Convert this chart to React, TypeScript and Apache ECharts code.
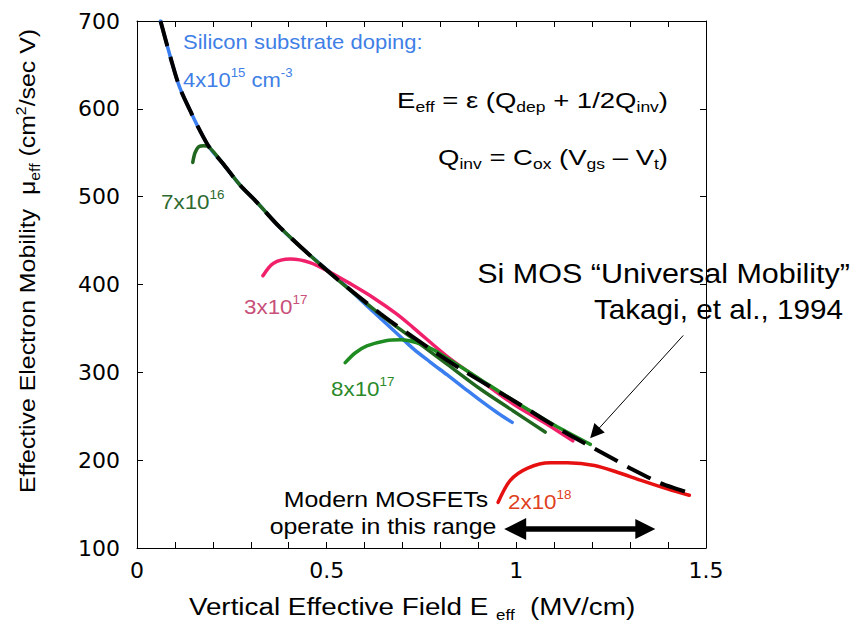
import React, { useEffect, useRef } from "react";
import * as echarts from "echarts";

// ---- data (x: MV/cm, y: cm^2/V·s) ----
const universal: [number, number][] = [
  [0.062, 700], [0.09, 656], [0.112, 625], [0.139, 599], [0.165, 576], [0.191, 556],
  [0.226, 538], [0.272, 513], [0.313, 495], [0.377, 465], [0.509, 413], [0.641, 367],
  [0.728, 340], [0.772, 327], [0.86, 302], [0.992, 268], [1.135, 230], [1.203, 214],
  [1.266, 199], [1.308, 189], [1.379, 174], [1.425, 167], [1.467, 161],
];
const doping4e15: [number, number][] = [
  [0.062, 700], [0.09, 656], [0.112, 625], [0.139, 599], [0.165, 576], [0.191, 556],
  [0.226, 538], [0.272, 513], [0.313, 495], [0.377, 465], [0.457, 433], [0.536, 404],
  [0.623, 369], [0.686, 344], [0.728, 327], [0.772, 312], [0.818, 297], [0.86, 283],
  [0.905, 268], [0.95, 254], [0.989, 243],
];
const doping7e16: [number, number][] = [
  [0.147, 539], [0.153, 550], [0.163, 557], [0.176, 558], [0.191, 556], [0.226, 538],
  [0.272, 513], [0.313, 495], [0.377, 465], [0.509, 413], [0.641, 366], [0.728, 338],
  [0.818, 309], [0.905, 281], [0.992, 256], [1.076, 232],
];
const doping3e17: [number, number][] = [
  [0.332, 410], [0.359, 424], [0.404, 429], [0.456, 425], [0.509, 414], [0.562, 401],
  [0.623, 385], [0.686, 366], [0.728, 351], [0.818, 318], [0.905, 291], [0.992, 264],
  [1.081, 241], [1.149, 222],
];
const doping8e17: [number, number][] = [
  [0.549, 311], [0.575, 322], [0.606, 330], [0.656, 336], [0.696, 337], [0.736, 334],
  [0.78, 326], [0.818, 316], [0.905, 292], [0.992, 268], [1.1, 240], [1.195, 218],
];
const doping2e18: [number, number][] = [
  [0.952, 152], [0.984, 177], [1.03, 191], [1.09, 197], [1.135, 197], [1.206, 194],
  [1.268, 186], [1.329, 177], [1.4, 167], [1.456, 160],
];
// annotation arrows (data coordinates)
const rangeArrow: [number, number][] = [[0.997, 121.6], [1.34, 121.6]];
const takagiArrow: [number, number][] = [[1.44, 342], [1.207, 231]];

const xRange = { min: 0, max: 1.5, interval: 0.5 };
const yRange = { min: 100, max: 700, interval: 100 };

const FONT = "'Liberation Sans', Arial, sans-serif";
const TICK_FONT = "'DejaVu Sans', sans-serif";

const C = {
  blue: "#3a7eef",
  blueText: "#3f7fe6",
  dkGreen: "#21661f",
  dkGreenText: "#2e6a30",
  green: "#1f8c22",
  greenText: "#2a8a2a",
  pink: "#f0206a",
  pinkText: "#c8507a",
  red: "#e61010",
  redText: "#e04020",
};

function rich(size: number, color: string) {
  const s = Math.round(size * 0.62);
  return {
    b: { fontSize: size, fontFamily: FONT, fill: color, lineHeight: size * 1.3 },
    sup: { fontSize: s, fontFamily: FONT, fill: color, lineHeight: s, verticalAlign: "top" },
    sub: { fontSize: s, fontFamily: FONT, fill: color, lineHeight: s, verticalAlign: "bottom" },
  };
}

function label(
  text: string, x: number, y: number, size: number, color: string, sx: number,
  align: string = "left", rotation = 0
) {
  return {
    type: "text", x, y, scaleX: sx, rotation, z: 100,
    style: {
      text, rich: rich(size, color), fill: color, font: `${size}px ${FONT}`,
      align, verticalAlign: "middle",
    },
  };
}

function lineSeries(data: [number, number][], color: string, z = 2) {
  return {
    type: "line", data, showSymbol: false, smooth: 0.3, z,
    lineStyle: { color, width: 3.5, cap: "round" },
    emphasis: { disabled: true },
  };
}

const axisCommon = {
  axisLine: { show: true, onZero: false, lineStyle: { color: "#000", width: 1 } },
  axisTick: { show: true, inside: true, length: 6, lineStyle: { color: "#000" } },
  splitLine: { show: false },
};

export default function App() {
  const ref = useRef<HTMLDivElement>(null);
  useEffect(() => {
    document.body.style.margin = "0";
    if (!ref.current) return;
    const chart = echarts.init(ref.current, undefined, { renderer: "svg" });
    chart.setOption({
      animation: false,
      backgroundColor: "#fff",
      grid: { left: 137, right: 148, top: 21, bottom: 82, containLabel: false },
      xAxis: [
        {
          type: "value", ...xRange, position: "bottom", ...axisCommon,
          minorTick: { show: true, splitNumber: 5, length: 6, lineStyle: { color: "#000" } },
          axisLabel: { fontFamily: TICK_FONT, fontSize: 22, color: "#000", margin: 11 },
        },
        {
          type: "value", ...xRange, position: "top", ...axisCommon,
          minorTick: { show: true, splitNumber: 5, length: 6, lineStyle: { color: "#000" } },
          axisLabel: { show: false },
        },
      ],
      yAxis: [
        {
          type: "value", ...yRange, position: "left", ...axisCommon,
          axisLabel: { fontFamily: TICK_FONT, fontSize: 22, color: "#000", margin: 17 },
        },
        {
          type: "value", ...yRange, position: "right", ...axisCommon,
          axisLabel: { show: false },
        },
      ],
      series: [
        lineSeries(doping4e15, C.blue),
        lineSeries(doping7e16, C.dkGreen),
        lineSeries(doping3e17, C.pink),
        lineSeries(doping8e17, C.green),
        lineSeries(doping2e18, C.red),
        {
          type: "line", data: universal, showSymbol: false, smooth: 0.3, z: 4,
          lineStyle: { color: "#000", width: 4, type: [26, 11], cap: "butt" },
          emphasis: { disabled: true },
        },
        {
          type: "lines", coordinateSystem: "cartesian2d", z: 5,
          symbol: ["triangle", "triangle"], symbolSize: [22, 20],
          lineStyle: { color: "#000", width: 5.5, opacity: 1 },
          data: [{ coords: rangeArrow }],
        },
        {
          type: "lines", coordinateSystem: "cartesian2d", z: 5,
          symbol: ["none", "triangle"], symbolSize: [10, 14],
          lineStyle: { color: "#000", width: 1, opacity: 1 },
          data: [{ coords: takagiArrow }],
        },
      ],
      graphic: {
        elements: [
          label("{b|Silicon substrate doping:}", 183, 42, 20, C.blueText, 1.1),
          label("{b|4x10}{sup|15}{b| cm}{sup|-3}", 183, 80, 20, C.blueText, 1.1),
          label("{b|E}{sub|eff}{b| = ε (Q}{sub|dep}{b| + 1/2Q}{sub|inv}{b|)}", 668, 100, 22, "#000", 1.25, "right"),
          label("{b|Q}{sub|inv}{b| = C}{sub|ox}{b| (V}{sub|gs}{b| – V}{sub|t}{b|)}", 668, 157, 22, "#000", 1.25, "right"),
          label("{b|7x10}{sup|16}", 161, 202, 20, C.dkGreenText, 1.12),
          label("{b|3x10}{sup|17}", 244, 307, 20, C.pinkText, 1.12),
          label("{b|8x10}{sup|17}", 331, 389, 20, C.greenText, 1.12),
          label("{b|2x10}{sup|18}", 508, 502, 20, C.redText, 1.12),
          label("{b|Si MOS “Universal Mobility”}", 850, 273, 28, "#000", 1.09, "right"),
          label("{b|Takagi, et al., 1994}", 843, 309, 28, "#000", 1.06, "right"),
          label("{b|Modern MOSFETs}", 386, 500, 22, "#000", 1.13, "center"),
          label("{b|operate in this range}", 383, 527, 22, "#000", 1.13, "center"),
          label("{b|Vertical Effective Field E }{sub|eff}{b|  (MV/cm)}", 412, 607, 23, "#000", 1.21, "center"),
          label("{b|Effective Electron Mobility  μ}{sub|eff}{b| (cm}{sup|2}{b|/sec V)}", 28, 261, 22, "#000", 1.13, "center", Math.PI / 2),
        ],
      },
    });
    return () => chart.dispose();
  }, []);
  return <div ref={ref} style={{ width: 854, height: 630 }} />;
}
